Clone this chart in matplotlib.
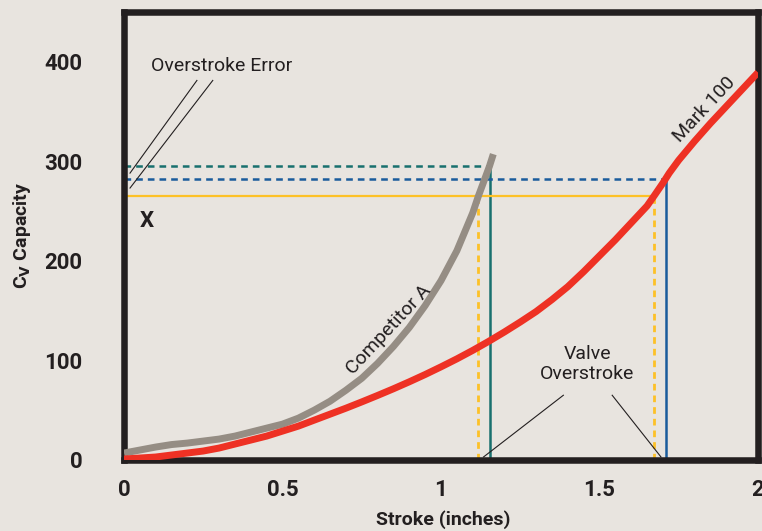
import matplotlib
matplotlib.use("Agg")
import matplotlib.pyplot as plt

# values
mark_x = [0, 0.05, 0.1, 0.15, 0.2, 0.25, 0.3, 0.35, 0.4, 0.45, 0.5, 0.55, 0.6, 0.65,
          0.7, 0.75, 0.8, 0.85, 0.9, 0.95, 1.0, 1.05, 1.1, 1.15, 1.2, 1.25, 1.3, 1.35,
          1.4, 1.45, 1.5, 1.55, 1.6, 1.65, 1.672, 1.7, 1.72, 1.75, 1.8, 1.85, 1.9, 1.95, 2.0]
mark_y = [1, 2, 3, 5, 7, 9, 12, 16, 20, 24, 29, 34, 40, 46,
          52, 58.3, 64.8, 71.5, 78.5, 85.8, 93.5, 101.5, 110, 119, 128.5, 138.5, 149, 161,
          174, 189, 205, 221, 238, 255, 265, 278, 288, 301, 320, 338, 355, 372, 389]
comp_x = [0, 0.05, 0.1, 0.15, 0.2, 0.25, 0.3, 0.35, 0.4, 0.45, 0.5, 0.55, 0.6, 0.65,
          0.7, 0.75, 0.8, 0.85, 0.9, 0.95, 1.0, 1.05, 1.1, 1.118, 1.153, 1.165]
comp_y = [7, 10, 13, 15.5, 17, 19, 21, 24, 28, 32, 36, 42, 50, 59,
          70, 82, 97, 114, 133, 155, 180, 210, 248, 265, 295, 307]

err_x = [1.118, 1.672]      # yellow dotted verticals
err_y = 265                 # yellow solid level
teal_x, teal_y = 1.153, 295
blue_x, blue_y = 1.71, 282

xticks = [0, 0.5, 1, 1.5, 2]
xtick_labels = ["0", "0.5", "1", "1.5", "2"]
yticks = [0, 100, 200, 300, 400]

BG = "#e8e4df"
INK = "#231f20"
RED = "#ee3124"
GRAY = "#958d84"
TEAL = "#18706e"
BLUE = "#1a5c9c"
YEL = "#fdc127"

plt.rcParams["lines.scale_dashes"] = False
BOLD = ["Roboto", "DejaVu Sans"]
LIGHT = ["Roboto", "DejaVu Sans"]

fig = plt.figure(figsize=(7.62, 5.31), dpi=100, facecolor=BG)
ax = fig.add_axes([124 / 762, 1 - 460 / 531, 634 / 762, (460 - 11.7) / 531])
ax.set_facecolor(BG)
ax.set_xlim(0, 2)
ax.set_ylim(0, 450)

dash = (0, (4.8, 3.6))
# reference levels
ax.plot([0, teal_x], [teal_y, teal_y], color=TEAL, lw=1.8, ls=dash, zorder=2)
ax.plot([teal_x, teal_x], [0, teal_y], color=TEAL, lw=1.8, zorder=2)
ax.plot([0, blue_x], [blue_y, blue_y], color=BLUE, lw=1.8, ls=dash, zorder=2)
ax.plot([blue_x, blue_x], [0, blue_y], color=BLUE, lw=1.8, zorder=2)
ax.plot([0, err_x[1]], [err_y, err_y], color=YEL, lw=1.6, zorder=2)
for xv in err_x:
    ax.plot([xv, xv], [0, err_y], color=YEL, lw=2.0, ls=dash, zorder=2)

# curves
ax.plot(comp_x, comp_y, color=GRAY, lw=5, solid_capstyle="butt",
        solid_joinstyle="round", zorder=3)
ax.plot(mark_x, mark_y, color=RED, lw=5, solid_capstyle="butt",
        solid_joinstyle="round", zorder=3)

# annotations
ax.text(0.085, 395, "Overstroke Error", fontsize=14, family=LIGHT,
        color=INK, va="center", ha="left")
ax.plot([0.23, 0.019], [381, 288], color=INK, lw=0.8)
ax.plot([0.28, 0.019], [381, 273], color=INK, lw=0.8)
ax.text(0.071, 240, "X", fontsize=16, family=BOLD, weight="bold", color=INK,
        ha="center", va="center")
ax.text(1.461, 96, "Valve\nOverstroke", fontsize=14, family=LIGHT,
        color=INK, ha="center", va="center", linespacing=1.15)
ax.plot([1.386, 1.134], [65, 3], color=INK, lw=0.8)
ax.plot([1.54, 1.694], [65, 3], color=INK, lw=0.8)
ax.text(0.835, 131, "Competitor A", fontsize=14, family=LIGHT,
        color=INK, rotation=47, ha="center", va="center", rotation_mode="anchor")
ax.text(1.83, 352, "Mark 100", fontsize=14, family=LIGHT,
        color=INK, rotation=47, ha="center", va="center", rotation_mode="anchor")

# frame and ticks
for s in ax.spines.values():
    s.set_linewidth(4.7)
    s.set_color(INK)
ax.set_xticks(xticks)
ax.set_xticklabels(xtick_labels)
ax.set_yticks(yticks)
ax.tick_params(length=0)
ax.tick_params(axis="x", pad=14)
ax.tick_params(axis="y", pad=30)
for lab in ax.get_xticklabels() + ax.get_yticklabels():
    lab.set_fontfamily(BOLD)
    lab.set_fontweight("bold")
    lab.set_fontsize(16)
    lab.set_color(INK)

fig.text(443 / 762, 1 - 520 / 531, "Stroke (inches)", fontsize=14, family=BOLD,
         weight="bold", color=INK, ha="center", va="center")
fig.text(22 / 762, 1 - 235 / 531, r"C$_\mathbf{V}$ Capacity", fontsize=14, family=BOLD,
         weight="bold", color=INK, ha="center", va="center", rotation=90)

fig.savefig("out.png", dpi=100, facecolor=BG)
